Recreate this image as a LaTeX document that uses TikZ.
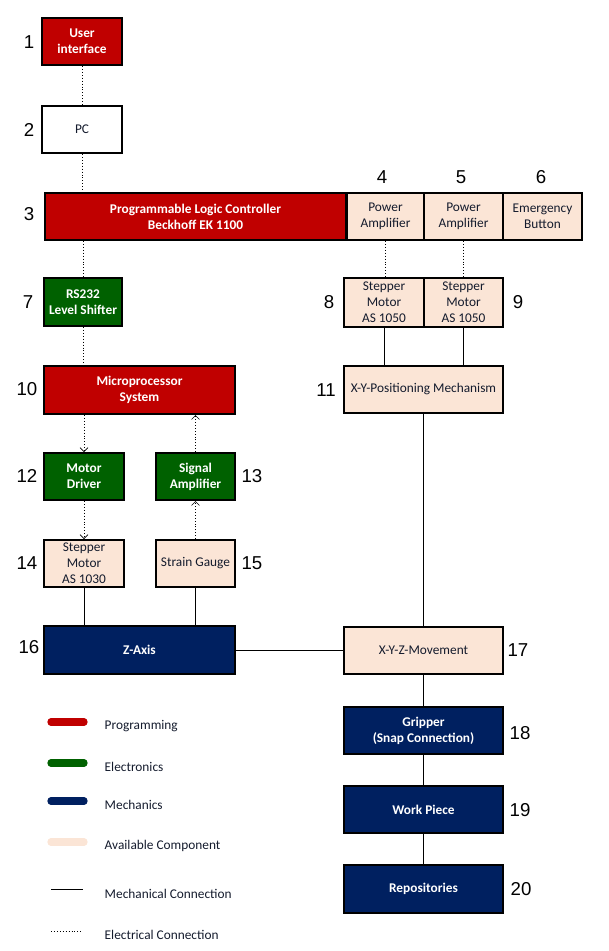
\documentclass[tikz,border=0pt]{standalone}
\usepackage{fontspec}
\setmainfont{Carlito}
\newfontfamily\numfont{Liberation Sans}
\usetikzlibrary{arrows.meta}

\definecolor{progred}{HTML}{C00000}
\definecolor{elecgreen}{HTML}{006100}
\definecolor{mechblue}{HTML}{002060}
\definecolor{availpeach}{HTML}{FBE5D6}
\definecolor{txtdark}{HTML}{141B2D}

\tikzset{
  blk/.style={draw=black, line width=1.5pt, inner sep=0pt, align=center,
    font=\fontsize{10}{12}\selectfont, minimum height=35.25pt},
  prog/.style={blk, fill=progred, text=white, font=\fontsize{10}{12}\selectfont\bfseries},
  elec/.style={blk, fill=elecgreen, text=white, font=\fontsize{10}{12}\selectfont\bfseries},
  mech/.style={blk, fill=mechblue, text=white, font=\fontsize{10}{12}\selectfont\bfseries},
  avail/.style={blk, fill=availpeach, text=txtdark},
  plain/.style={blk, fill=white, text=txtdark},
  num/.style={font=\numfont\fontsize{14}{16}\selectfont, text=black},
  legtxt/.style={anchor=west, text=txtdark, font=\fontsize{10}{12}\selectfont},
  elink/.style={black, line width=0.6pt, dash pattern=on 0.6pt off 1.6pt},
  mlink/.style={black, line width=0.6pt},
  sigarrow/.style={elink, -{Straight Barb[length=3pt,width=6pt,line width=0.5pt]}},
  swatch/.style={line width=5.5pt, line cap=round}
}

\begin{document}
\begin{tikzpicture}[x=0.75pt,y=-0.75pt]
  \useasboundingbox (0,0) rectangle (609,951);

  % left column
  \node[prog, minimum width=60pt] (ui) at (82,41.5) {User\\interface};
  \node[plain, minimum width=60pt] (pc) at (82,129.5) {PC};
  \node[prog, minimum width=225.75pt] (plc) at (195.5,216.5) {Programmable Logic Controller\\Beckhoff EK 1100};
  \node[avail, minimum width=57.75pt] (pa1) at (385.5,216.5) {Power\\Amplifier};
  \node[avail, minimum width=59.25pt] (pa2) at (463.5,216.5) {Power\\Amplifier};
  \node[avail, minimum width=59.25pt] (eb) at (542.5,216.5) {Emergency\\Button};

  \node[elec, minimum width=58.5pt, minimum height=36pt] (rs) at (83,302) {RS232\\Level Shifter};
  \node[avail, minimum width=60pt, minimum height=36.75pt] (sm1) at (384,302.5) {Stepper\\Motor\\AS 1050};
  \node[avail, minimum width=59.25pt, minimum height=36.75pt] (sm2) at (463.5,302.5) {Stepper\\Motor\\AS 1050};

  \node[prog, minimum width=143.25pt, minimum height=36pt] (mps) at (139.5,390) {Microprocessor\\System};
  \node[avail, minimum width=119.25pt] (xyp) at (423.5,389.5) {X-Y-Positioning Mechanism};

  \node[elec, minimum width=60pt] (md) at (84,476.5) {Motor\\Driver};
  \node[elec, minimum width=59.25pt] (sa) at (195.5,476.5) {Signal\\Amplifier};
  \node[avail, minimum width=60pt] (sm3) at (84,563.5) {Stepper\\Motor\\AS 1030};
  \node[avail, minimum width=59.25pt] (sg) at (195.5,563.5) {Strain Gauge};

  \node[mech, minimum width=143.25pt, minimum height=36pt] (za) at (139.5,650) {Z-Axis};
  \node[avail, minimum width=119.25pt] (xyz) at (423.5,650) {X-Y-Z-Movement};
  \node[mech, minimum width=119.25pt] (grip) at (423.5,730.5) {Gripper\\(Snap Connection)};
  \node[mech, minimum width=119.25pt] (wp) at (423.5,809.5) {Work Piece};
  \node[mech, minimum width=119.25pt, minimum height=36pt] (rep) at (423.5,889) {Repositories};

  % numbers
  \node[num] (n1) at (29,42) {1};
  \node[num] (n2) at (29,130) {2};
  \node[num] (n3) at (29,214) {3};
  \node[num] (n4) at (382,177) {4};
  \node[num] (n5) at (461,177) {5};
  \node[num] (n6) at (541,177) {6};
  \node[num] (n7) at (28,302) {7};
  \node[num] (n8) at (329,302) {8};
  \node[num] (n9) at (518,302) {9};
  \node[num] (n10) at (27,389) {10};
  \node[num] (n11) at (326,390) {11};
  \node[num] (n12) at (27,476) {12};
  \node[num] (n13) at (252,476) {13};
  \node[num] (n14) at (27,563) {14};
  \node[num] (n15) at (252,563) {15};
  \node[num] (n16) at (29,647) {16};
  \node[num] (n17) at (518,650) {17};
  \node[num] (n18) at (520,733) {18};
  \node[num] (n19) at (520,810) {19};
  \node[num] (n20) at (521,889) {20};

  % electrical connections
  \draw[elink] (ui) -- (pc);
  \draw[elink] (pc.south) -- (pc.south |- plc.north);
  \draw[elink] (rs.north |- plc.south) -- (rs.north);
  \draw[elink] (rs.south) -- (rs.south |- mps.north);
  \draw[elink] (pa1.south) -- (pa1.south |- sm1.north);
  \draw[elink] (pa2.south) -- (pa2.south |- sm2.north);
  \draw[sigarrow] (md.north |- mps.south) -- (md.north);
  \draw[sigarrow] (md) -- (sm3);
  \draw[sigarrow] (sg) -- (sa);
  \draw[sigarrow] (sa.north) -- (sa.north |- mps.south);

  % mechanical connections
  \draw[mlink] (sm1.south) -- (sm1.south |- xyp.north);
  \draw[mlink] (sm2.south) -- (sm2.south |- xyp.north);
  \draw[mlink] (xyp) -- (xyz);
  \draw[mlink] (sm3.south) -- (sm3.south |- za.north);
  \draw[mlink] (sg.south) -- (sg.south |- za.north);
  \draw[mlink] (za) -- (xyz);
  \draw[mlink] (xyz) -- (grip);
  \draw[mlink] (grip) -- (wp);
  \draw[mlink] (wp) -- (rep);

  % legend
  \coordinate (k1a) at (51,722); \coordinate (k1b) at (84,722);
  \coordinate (k2a) at (51,763); \coordinate (k2b) at (84,763);
  \coordinate (k3a) at (51,801); \coordinate (k3b) at (84,801);
  \coordinate (k4a) at (51,842); \coordinate (k4b) at (84,842);
  \coordinate (k5a) at (51,889); \coordinate (k5b) at (83,889);
  \coordinate (k6a) at (51,931); \coordinate (k6b) at (82,931);
  \draw[swatch, progred] (k1a) -- (k1b);
  \draw[swatch, elecgreen] (k2a) -- (k2b);
  \draw[swatch, mechblue] (k3a) -- (k3b);
  \draw[swatch, availpeach] (k4a) -- (k4b);
  \draw[mlink] (k5a) -- (k5b);
  \draw[elink] (k6a) -- (k6b);
  \node[legtxt] (l1) at (100,726) {Programming};
  \node[legtxt] (l2) at (100,767) {Electronics};
  \node[legtxt] (l3) at (100,805) {Mechanics};
  \node[legtxt] (l4) at (100,846) {Available Component};
  \node[legtxt] (l5) at (100,894) {Mechanical Connection};
  \node[legtxt] (l6) at (100,935) {Electrical Connection};
\end{tikzpicture}
\end{document}
